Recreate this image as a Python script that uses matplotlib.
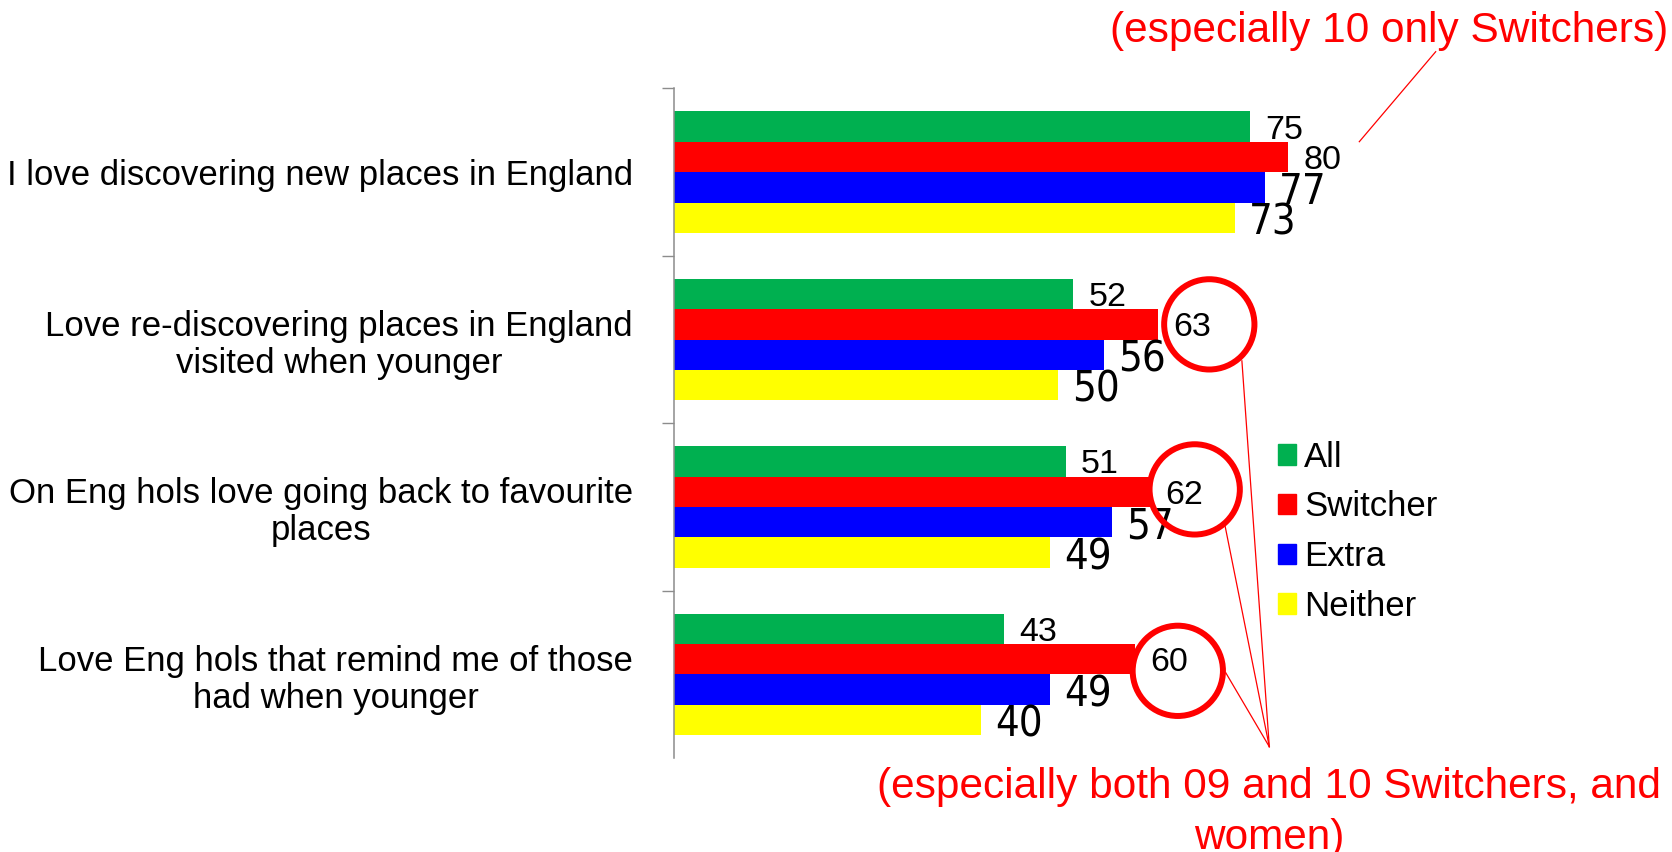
import numpy as np
import matplotlib
matplotlib.use("Agg")
import matplotlib.pyplot as plt
from matplotlib.patches import Patch
from matplotlib.lines import Line2D

plt.rcParams['font.family'] = ['Liberation Sans', 'DejaVu Sans']

# chart data
categories = [
    "I love discovering new places in England",
    "Love re-discovering places in England\nvisited when younger",
    "On Eng hols love going back to favourite\nplaces",
    "Love Eng hols that remind me of those\nhad when younger",
]
series_names = ["All", "Switcher", "Extra", "Neither"]
all_vals = [75, 52, 51, 43]
switcher_vals = [80, 63, 62, 60]
extra_vals = [77, 56, 57, 49]
neither_vals = [73, 50, 49, 40]
circled = [1, 2, 3]  # categories where the Switcher value is ringed
note_top = "(especially 10 only Switchers)"
note_bottom = "(especially both 09 and 10 Switchers, and\nwomen)"

colors = ["#00B050", "#FF0000", "#0000FF", "#FFFF00"]
axis_grey = "#8c8c8c"

W, H = 1672, 852
fig = plt.figure(figsize=(W / 100, H / 100), dpi=100)
ax = fig.add_axes([674 / W, 94 / H, 768 / W, 669.5 / H])

y = np.arange(len(categories))
bar_h = 0.1816
series = [all_vals, switcher_vals, extra_vals, neither_vals]

for k, (vals, name, col) in enumerate(zip(series, series_names, colors)):
    pos = y + (k - 1.5) * bar_h
    ax.barh(pos, vals, height=bar_h, color=col, label=name)
    for p, v in zip(pos, vals):
        if k >= 2:
            # Extra / Neither labels use the bigger font
            ax.annotate(str(v), (v, p), xytext=(10, 0), textcoords='offset points',
                        ha='left', va='center_baseline', fontsize=30,
                        family='DejaVu Sans', fontstretch='condensed')
        else:
            ax.annotate(str(v), (v, p), xytext=(11, 0), textcoords='offset points',
                        ha='left', va='center_baseline', fontsize=24.5)

ax.set_xlim(0, 100)
ax.set_ylim(3.5, -0.5)
ax.set_xticks([])
ax.set_yticks(y, categories)
ax.set_yticks([-0.5, 0.5, 1.5, 2.5], minor=True)
ax.tick_params(axis='y', which='major', length=0, pad=29.5, labelsize=25)
ax.tick_params(axis='y', which='minor', length=8.6, width=1, color=axis_grey, direction='out')
for t in ax.get_yticklabels():
    t.set_multialignment('center')
    t.set_linespacing(1.15)
for s in ['top', 'right', 'bottom']:
    ax.spines[s].set_visible(False)
ax.spines['left'].set_color(axis_grey)
ax.spines['left'].set_linewidth(1.1)

# red rings round the Switcher values
ring_dx = [6.7, 5.8, 5.6]
ring_dy = [0.0, -0.014, 0.07]
ring_centres = []
for i, dx, dy in zip(circled, ring_dx, ring_dy):
    cx, cy = switcher_vals[i] + dx, y[i] - 0.5 * bar_h + dy
    ax.scatter([cx], [cy], s=65 ** 2, facecolors='none', edgecolors='red',
               linewidths=4.3, zorder=5, clip_on=False)
    ring_centres.append(ax.transData.transform((cx, cy)))

# legend
handles = [Patch(color=c) for c in colors]
ax.legend(handles, series_names, loc='center left',
          bbox_to_anchor=(1277.7 / W, 1 - 531.7 / H), bbox_transform=fig.transFigure,
          frameon=False, fontsize=25, handlelength=0.52, handleheight=0.52,
          handletextpad=0.24, labelspacing=0.48, borderpad=0, borderaxespad=0)

# notes and their connector lines
fig.text(1668 / W, 1 - 41.7 / H, note_top, ha='right', va='baseline', color='red', fontsize=30.5)
# baseline here is the last line's baseline
fig.text(1269 / W, 1 - 849 / H, note_bottom, ha='center', va='baseline', color='red',
         fontsize=30.5, linespacing=1.36, multialignment='center')

to_fig = fig.transFigure.inverted()
meet = np.array([1269.3, H - 746.7])
edge_offsets = [(32.6, -36.5), (30.5, -37.2), (48, -2)]
for c, off in zip(ring_centres, edge_offsets):
    a = to_fig.transform(c + np.array(off))
    b = to_fig.transform(meet)
    fig.add_artist(Line2D([a[0], b[0]], [a[1], b[1]], color='red', lw=0.9))

a = to_fig.transform((1359.3, H - 141.7))
b = to_fig.transform((1435.7, H - 51.7))
fig.add_artist(Line2D([a[0], b[0]], [a[1], b[1]], color='red', lw=0.9))

fig.savefig("out.png", dpi=100)
